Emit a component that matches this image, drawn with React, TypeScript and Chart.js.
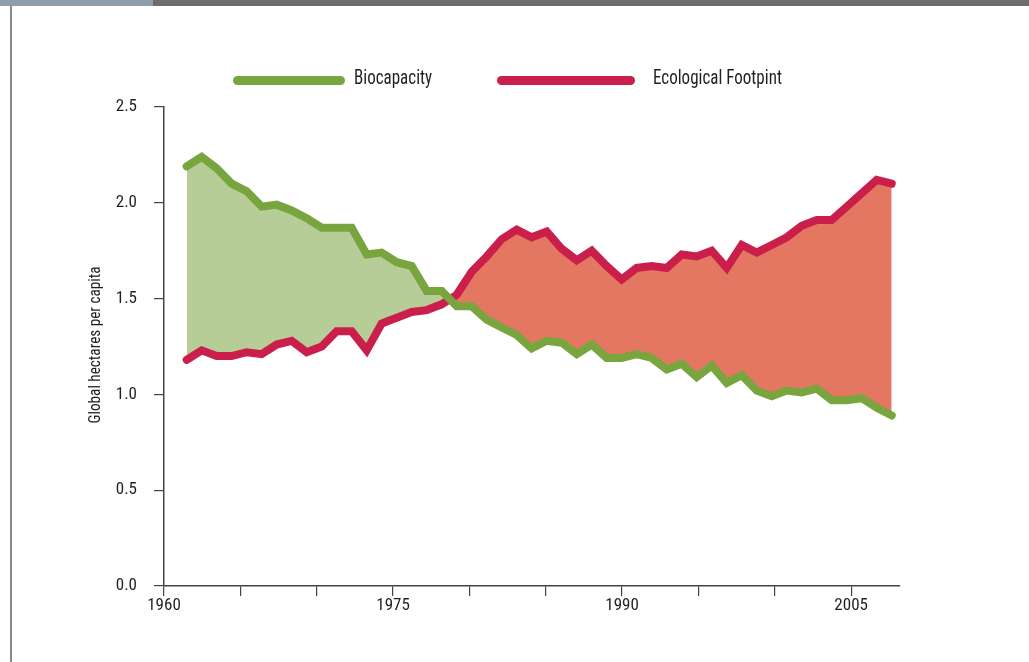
import React, { useEffect, useRef } from "react";
import { Chart, registerables } from "chart.js";

Chart.register(...registerables);

const years = [
  1961, 1962, 1963, 1964, 1965, 1966, 1967, 1968, 1969, 1970, 1971, 1972,
  1973, 1974, 1975, 1976, 1977, 1978, 1979, 1980, 1981, 1982, 1983, 1984,
  1985, 1986, 1987, 1988, 1989, 1990, 1991, 1992, 1993, 1994, 1995, 1996,
  1997, 1998, 1999, 2000, 2001, 2002, 2003, 2004, 2005, 2006, 2007, 2008,
];

const biocapacity = [
  2.19, 2.24, 2.18, 2.1, 2.06, 1.98, 1.99, 1.96, 1.92, 1.87, 1.87, 1.87,
  1.73, 1.74, 1.69, 1.67, 1.54, 1.54, 1.46, 1.46, 1.39, 1.35, 1.31, 1.24,
  1.28, 1.27, 1.21, 1.26, 1.19, 1.19, 1.21, 1.19, 1.13, 1.16, 1.09, 1.15,
  1.06, 1.1, 1.02, 0.99, 1.02, 1.01, 1.03, 0.97, 0.97, 0.98, 0.93, 0.89,
];

const footprint = [
  1.18, 1.23, 1.2, 1.2, 1.22, 1.21, 1.26, 1.28, 1.22, 1.25, 1.33, 1.33,
  1.23, 1.37, 1.4, 1.43, 1.44, 1.47, 1.52, 1.64, 1.72, 1.81, 1.86, 1.82,
  1.85, 1.76, 1.7, 1.75, 1.67, 1.6, 1.66, 1.67, 1.66, 1.73, 1.72, 1.75,
  1.66, 1.78, 1.74, 1.78, 1.82, 1.88, 1.91, 1.91, 1.98, 2.05, 2.12, 2.1,
];

const xTickYears = [1960, 1965, 1970, 1975, 1980, 1985, 1990, 1995, 2000, 2005];
const xLabelYears = [1960, 1975, 1990, 2005];
const yTickValues = [0, 0.5, 1, 1.5, 2, 2.5];

const seriesNames = ["Biocapacity", "Ecological Footpint"];
const yAxisTitle = "Global hectares per capita";

const GREEN_LINE = "#78a53e";
const RED_LINE = "#cb1f4b";
const GREEN_FILL = "#b6cd97";
const RED_FILL = "#e47762";
const TEXT = "#231f20";
const AXIS = "#444444";
const FONT = "'Roboto Condensed', 'DejaVu Sans Condensed', sans-serif";

export default function App() {
  const canvasRef = useRef<HTMLCanvasElement | null>(null);

  useEffect(() => {
    const canvas = canvasRef.current;
    if (!canvas) return;
    const chart = new Chart(canvas, {
      type: "line",
      data: {
        datasets: [
          {
            label: seriesNames[0],
            data: years.map((yr, i) => ({ x: yr, y: biocapacity[i] })),
            borderColor: GREEN_LINE,
            borderWidth: 8,
            borderCapStyle: "round",
            borderJoinStyle: "miter",
            pointRadius: 0,
            tension: 0,
            xAxisID: "xd",
            yAxisID: "y",
            fill: { target: 1, above: GREEN_FILL, below: RED_FILL },
          },
          {
            label: seriesNames[1],
            data: years.map((yr, i) => ({ x: yr, y: footprint[i] })),
            borderColor: RED_LINE,
            borderWidth: 8,
            borderCapStyle: "round",
            borderJoinStyle: "miter",
            pointRadius: 0,
            tension: 0,
            xAxisID: "xd",
            yAxisID: "y",
            fill: false,
          },
        ],
      },
      options: {
        animation: false,
        responsive: false,
        maintainAspectRatio: false,
        layout: { padding: { left: 0, right: 129, top: 107, bottom: 46 } },
        plugins: {
          legend: { display: false },
          tooltip: { enabled: false },
          filler: { drawTime: "beforeDatasetsDraw" },
        } as any,
        scales: {
          xd: {
            type: "linear",
            display: false,
            min: 1959.49,
            max: 2008.55,
          },
          x: {
            type: "linear",
            position: "bottom",
            min: 1960,
            max: 2008.2,
            afterBuildTicks: (s: any) => {
              s.ticks = xTickYears.map((v) => ({ value: v }));
            },
            afterFit: (s: any) => {
              s.height = 30;
            },
            ticks: {
              autoSkip: false,
              maxRotation: 0,
              includeBounds: false,
              padding: 0,
              color: TEXT,
              font: { family: FONT, size: 17 },
              callback: (v: any) => (xLabelYears.includes(Number(v)) ? String(v) : ""),
            },
            grid: {
              drawOnChartArea: false,
              drawTicks: true,
              tickLength: 10,
              color: AXIS,
              lineWidth: 1.2,
            },
            border: { display: true, color: AXIS, width: 1.5 },
          },
          y: {
            type: "linear",
            position: "left",
            min: 0,
            max: 2.5,
            afterBuildTicks: (s: any) => {
              s.ticks = yTickValues.map((v) => ({ value: v }));
            },
            afterFit: (s: any) => {
              s.width = 164;
            },
            ticks: {
              padding: 17,
              color: TEXT,
              font: { family: FONT, size: 17 },
              callback: (v: any) => Number(v).toFixed(1),
            },
            grid: {
              drawOnChartArea: false,
              drawTicks: true,
              tickLength: 10,
              color: AXIS,
              lineWidth: 1.2,
            },
            border: { display: true, color: AXIS, width: 1.5 },
          },
        },
      } as any,
    });
    return () => chart.destroy();
  }, []);

  const legendText: React.CSSProperties = {
    position: "absolute",
    top: 67,
    fontFamily: FONT,
    fontSize: 21,
    lineHeight: "21px",
    color: TEXT,
    whiteSpace: "nowrap",
    transform: "scaleX(0.81)",
    transformOrigin: "0 50%",
  };

  return (
    <div
      style={{
        position: "absolute",
        left: 0,
        top: 0,
        width: 1029,
        height: 662,
        background: "#ffffff",
        overflow: "hidden",
      }}
    >
      <div style={{ position: "absolute", left: 0, top: 0, width: 1029, height: 6, background: "#6d6d6f" }} />
      <div style={{ position: "absolute", left: 0, top: 0, width: 153, height: 6, background: "#8b9ea9" }} />
      <div style={{ position: "absolute", left: 10, top: 6, width: 1.5, height: 656, background: "#8a8a8a" }} />

      <canvas ref={canvasRef} width={1029} height={662} style={{ position: "absolute", left: 0, top: 0 }} />

      <div style={{ position: "absolute", left: 233, top: 76, width: 112, height: 9, borderRadius: 5, background: GREEN_LINE }} />
      <div style={{ ...legendText, left: 354 }}>{seriesNames[0]}</div>
      <div style={{ position: "absolute", left: 497, top: 76, width: 138, height: 9, borderRadius: 5, background: RED_LINE }} />
      <div style={{ ...legendText, left: 653 }}>{seriesNames[1]}</div>

      <div
        style={{
          position: "absolute",
          left: -5,
          top: 335,
          width: 200,
          height: 20,
          lineHeight: "20px",
          textAlign: "center",
          transform: "rotate(-90deg) scaleX(0.95)",
          fontFamily: FONT,
          fontSize: 16,
          color: TEXT,
          whiteSpace: "nowrap",
        }}
      >
        {yAxisTitle}
      </div>
    </div>
  );
}
